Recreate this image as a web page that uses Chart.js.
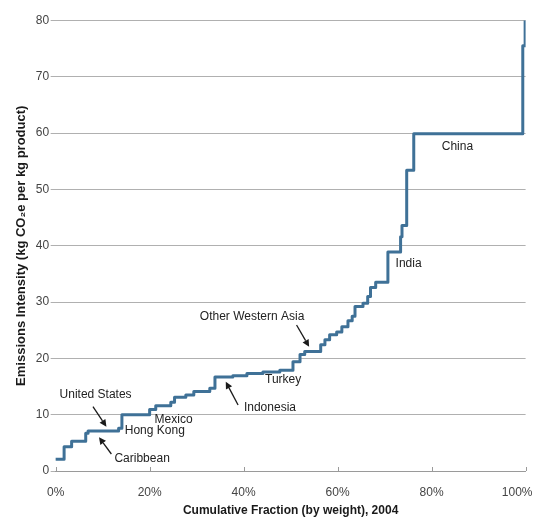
<!DOCTYPE html>
<html>
<head>
<meta charset="utf-8">
<script src="https://cdn.jsdelivr.net/npm/chart.js@4.4.0/dist/chart.umd.min.js"></script>
<style>
  html, body { margin: 0; padding: 0; background: #fff; }
  #wrap { width: 536px; height: 520px; }
</style>
</head>
<body>
<div id="wrap"><canvas id="c" width="536" height="520"></canvas></div>
<script>
// Cumulative fraction (%) at which each intensity step begins
const stepStart = [0, 1.8, 3.4, 6.4, 6.9, 13.4, 14.1, 20.0, 21.3, 24.5,
  25.3, 27.7, 29.4, 32.8, 33.9, 37.7, 40.7, 44.1, 47.7, 50.5,
  52.0, 53.0, 56.4, 57.3, 58.3, 59.8, 60.9, 62.2, 63.1, 63.7,
  65.4, 66.4, 67.0, 68.1, 70.7, 73.4, 73.7, 74.7, 76.2, 99.4,
  99.9, 100];

// Emissions intensity (kg CO2e per kg product) for each step
const intensity = [2.1, 4.3, 5.3, 6.7, 7.1, 7.6, 10.0, 10.9, 11.6, 12.2,
  13.1, 13.5, 14.1, 14.7, 16.7, 16.9, 17.3, 17.6, 17.9, 19.4,
  20.7, 21.2, 22.4, 23.3, 24.2, 24.7, 25.6, 26.7, 27.5, 29.2,
  29.8, 31.0, 32.6, 33.5, 38.9, 41.6, 43.6, 53.4, 59.9, 75.5,
  80, 80];

const xTickValues = [0, 20, 40, 60, 80, 100];
const yTickValues = [0, 10, 20, 30, 40, 50, 60, 70, 80];

// Region labels (placed in data units)
const noteLabels = ['China', 'India', 'Other Western Asia', 'Turkey', 'Indonesia',
  'Mexico', 'Hong Kong', 'United States', 'Caribbean'];
const noteX = [85.5, 75.1, 41.8, 48.4, 45.6, 25.1, 21.1, 8.5, 18.4];
const noteY = [57.6, 36.9, 27.4, 16.3, 11.2, 9.2, 7.1, 13.5, 2.1];

// Pointer arrows: tail -> head, in data units
const arrowFromX = [7.94, 11.86, 38.82, 51.26];
const arrowFromY = [11.42, 3.02, 11.72, 25.93];
const arrowToX = [10.80, 9.22, 36.20, 53.94];
const arrowToY = [7.87, 5.98, 15.86, 22.07];

Chart.defaults.font.family = "'Liberation Sans', Arial, Helvetica, sans-serif";

const points = stepStart.map((x, i) => ({ x: x, y: intensity[i] }));

// keep the rightmost percent label inside the canvas
const edgeLabel = {
  id: 'edgeLabel',
  beforeDraw(chart) {
    const items = chart.scales.x.getLabelItems();
    const last = items[items.length - 1];
    if (last && last.options && last.options.translation) {
      last.options.textAlign = 'right';
      last.options.translation[0] = chart.width - 3.5;
    }
  }
};

const notes = {
  id: 'notes',
  afterDraw(chart) {
    const { ctx, scales: { x, y } } = chart;
    ctx.save();

    // short inward tick marks on the bottom axis
    ctx.strokeStyle = '#9a9a9a';
    ctx.lineWidth = 1;
    xTickValues.forEach(v => {
      const px = Math.round(x.getPixelForValue(v)) + 0.5;
      ctx.beginPath();
      ctx.moveTo(px, y.bottom);
      ctx.lineTo(px, y.bottom - 4);
      ctx.stroke();
    });

    // text labels
    ctx.fillStyle = '#222';
    ctx.font = "12px 'Liberation Sans', Arial, sans-serif";
    ctx.textAlign = 'center';
    ctx.textBaseline = 'middle';
    noteLabels.forEach((t, i) => {
      ctx.fillText(t, x.getPixelForValue(noteX[i]), y.getPixelForValue(noteY[i]));
    });

    // arrows
    ctx.strokeStyle = '#1a1a1a';
    ctx.fillStyle = '#1a1a1a';
    ctx.lineWidth = 1.3;
    arrowFromX.forEach((fx, i) => {
      const x1 = x.getPixelForValue(fx), y1 = y.getPixelForValue(arrowFromY[i]);
      const x2 = x.getPixelForValue(arrowToX[i]), y2 = y.getPixelForValue(arrowToY[i]);
      const a = Math.atan2(y2 - y1, x2 - x1);
      const hl = 7, hw = 3.5;
      const bx = x2 - hl * Math.cos(a), by = y2 - hl * Math.sin(a);
      ctx.beginPath();
      ctx.moveTo(x1, y1);
      ctx.lineTo(bx, by);
      ctx.stroke();
      ctx.beginPath();
      ctx.moveTo(x2, y2);
      ctx.lineTo(bx + hw * Math.sin(a), by - hw * Math.cos(a));
      ctx.lineTo(bx - hw * Math.sin(a), by + hw * Math.cos(a));
      ctx.closePath();
      ctx.fill();
    });
    ctx.restore();
  }
};

new Chart(document.getElementById('c'), {
  type: 'line',
  data: {
    datasets: [{
      data: points,
      stepped: 'before',
      borderColor: '#3f7197',
      borderWidth: 3,
      borderJoinStyle: 'round',
      borderCapStyle: 'round',
      pointRadius: 0,
      fill: false
    }]
  },
  options: {
    responsive: false,
    animation: false,
    devicePixelRatio: 1,
    layout: { padding: { left: 7, top: 20.5, right: 10.4, bottom: 0 } },
    plugins: { legend: { display: false }, tooltip: { enabled: false } },
    scales: {
      x: {
        type: 'linear',
        min: 0,
        max: 100,
        afterBuildTicks: s => { s.ticks = xTickValues.map(v => ({ value: v })); },
        afterFit: s => { s.paddingRight = 0; },
        ticks: {
          callback: v => v + '%',
          padding: 0,
          color: '#444',
          font: { size: 12 },
          maxRotation: 0,
          autoSkip: false
        },
        grid: { drawOnChartArea: false, drawTicks: true, tickLength: 14.8, tickColor: 'rgba(0,0,0,0)' },
        border: { display: true, color: '#9a9a9a', width: 1 },
        title: {
          display: true,
          text: 'Cumulative Fraction (by weight), 2004',
          color: '#1a1a1a',
          font: { size: 12, weight: 'bold' },
          padding: { top: 3.6, bottom: 1.8 }
        }
      },
      y: {
        min: 0,
        max: 80,
        afterBuildTicks: s => { s.ticks = yTickValues.map(v => ({ value: v })); },
        ticks: { padding: 1.5, color: '#444', font: { size: 12 } },
        grid: { color: '#b0b0b0', lineWidth: 1, drawTicks: true, tickLength: 5 },
        border: { display: false },
        title: {
          display: true,
          text: 'Emissions Intensity (kg CO₂e per kg product)',
          color: '#1a1a1a',
          font: { size: 13, weight: 'bold' },
          padding: { top: 6.8, bottom: 4.9 }
        }
      }
    }
  },
  plugins: [edgeLabel, notes]
});
</script>
</body>
</html>
